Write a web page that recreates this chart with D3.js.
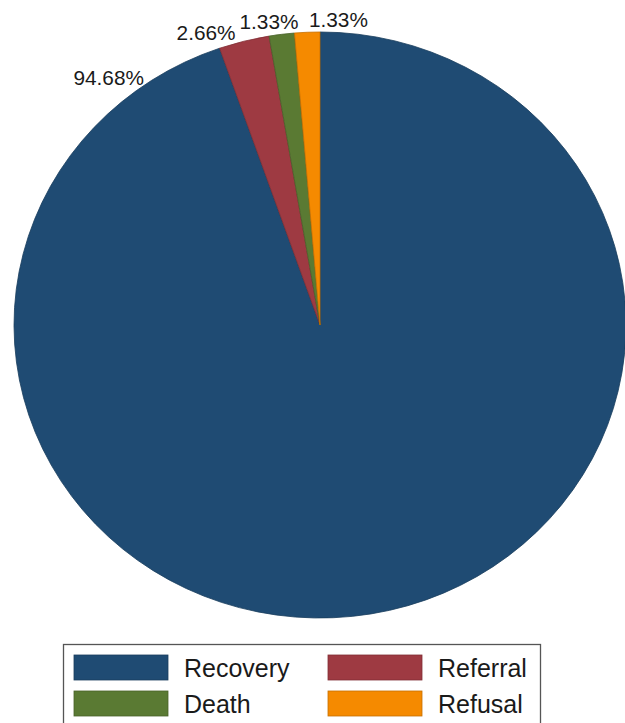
<!DOCTYPE html>
<html>
<head>
<meta charset="utf-8">
<script src="https://cdn.jsdelivr.net/npm/d3@7"></script>
<style>
  html, body { margin: 0; padding: 0; background: #fff; }
  svg { display: block; font-family: "Liberation Sans", Arial, sans-serif; }
</style>
</head>
<body>
<svg id="chart" width="625" height="723"></svg>
<script>
// Outcome categories and their shares (%)
const categories = ["Recovery", "Referral", "Death", "Refusal"];
const shares = [94.68, 2.66, 1.33, 1.33];
const colors = ["#1f4b73", "#9e3a42", "#5a7a33", "#f58a00"];

const svg = d3.select("#chart");

// Pie geometry (slightly wider than tall)
const cx = 320, cy = 325, ry = 293, rx = 306;

const pie = d3.pie().sort(null).value(d => d.value);
const arcs = pie(categories.map((c, i) => ({ name: c, value: shares[i], color: colors[i] })));
const arc = d3.arc().innerRadius(0).outerRadius(ry);

const g = svg.append("g")
  .attr("transform", `translate(${cx},${cy}) scale(${rx / ry},1)`);

g.selectAll("path")
  .data(arcs)
  .join("path")
  .attr("d", arc)
  .attr("fill", d => d.data.color)
  .attr("stroke", d => d3.color(d.data.color).darker(0.6))
  .attr("stroke-width", 0.8)
  .attr("vector-effect", "non-scaling-stroke");

// Percent labels placed around the rim
const fmt = v => v.toFixed(2) + "%";
const labelPlace = {
  Recovery: { at: a => a.endAngle - 0.27, gap: 2, anchor: "end", dx: -1, dy: 3 },
  Referral: { at: a => (a.startAngle + a.endAngle) / 2, gap: 2, anchor: "end", dx: -8, dy: 1 },
  Death:    { at: a => (a.startAngle + a.endAngle) / 2, gap: 6, anchor: "middle", dx: -12, dy: 1 },
  Refusal:  { at: a => (a.startAngle + a.endAngle) / 2, gap: 6, anchor: "start", dx: 2, dy: 1 }
};

svg.append("g")
  .selectAll("text")
  .data(arcs)
  .join("text")
  .each(function (d) {
    const p = labelPlace[d.data.name];
    const ang = p.at(d);
    const x = cx + Math.sin(ang) * (rx + p.gap) + p.dx;
    const y = cy - Math.cos(ang) * (ry + p.gap) + p.dy;
    d3.select(this)
      .attr("x", x)
      .attr("y", y)
      .attr("text-anchor", p.anchor)
      .text(fmt(d.data.value));
  })
  .attr("font-size", 20.8)
  .attr("fill", "#1a1a1a");

// Legend
const legend = svg.append("g");
legend.append("rect")
  .attr("x", 63.5).attr("y", 644.5)
  .attr("width", 477).attr("height", 90)
  .attr("fill", "#fff")
  .attr("stroke", "#555")
  .attr("stroke-width", 1.3);

const colX = [74, 328];
const rowY = [655, 691];
const items = legend.selectAll("g.item")
  .data(categories.map((c, i) => ({ name: c, color: colors[i], col: i % 2, row: Math.floor(i / 2) })))
  .join("g")
  .attr("class", "item")
  .attr("transform", d => `translate(${colX[d.col]},${rowY[d.row]})`);

items.append("rect")
  .attr("width", 94).attr("height", 25)
  .attr("fill", d => d.color)
  .attr("stroke", d => d3.color(d.color).darker(0.6))
  .attr("stroke-width", 0.8);

items.append("text")
  .attr("x", 110)
  .attr("y", 22)
  .attr("font-size", 25)
  .attr("fill", "#1a1a1a")
  .text(d => d.name);
</script>
</body>
</html>
